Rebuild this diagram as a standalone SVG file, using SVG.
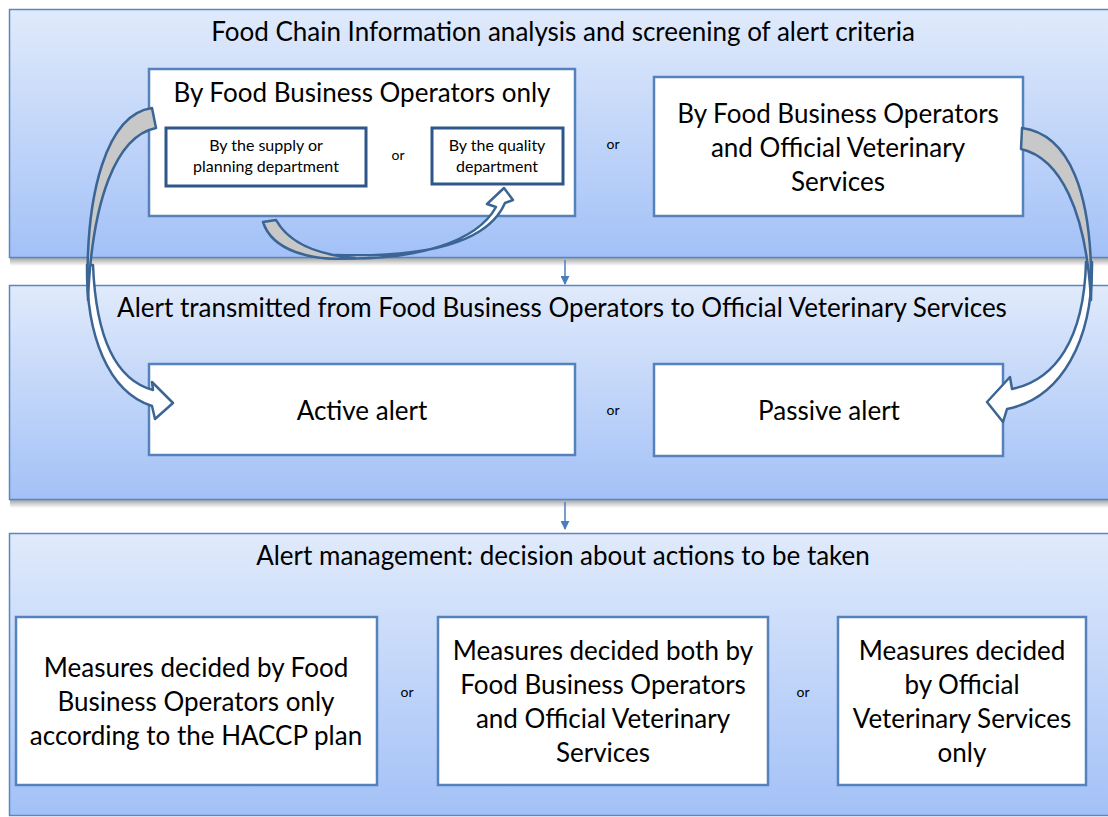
<svg xmlns="http://www.w3.org/2000/svg" width="1108" height="817" viewBox="0 0 1108 817">
<defs>
<linearGradient id="pg" x1="0" y1="0" x2="0" y2="1">
<stop offset="0" stop-color="#e0eafb"/>
<stop offset="1" stop-color="#a3c1f7"/>
</linearGradient>
<linearGradient id="sh" x1="0" y1="0" x2="0" y2="1">
<stop offset="0" stop-color="#000" stop-opacity="0.35"/>
<stop offset="1" stop-color="#000" stop-opacity="0"/>
</linearGradient>
<marker id="ah" viewBox="0 0 10 10" refX="9" refY="5" markerWidth="9" markerHeight="9" orient="auto" markerUnits="userSpaceOnUse">
<path d="M0,0 L10,5 L0,10 Z" fill="#4a7ebb"/>
</marker>
</defs>
<style>
.panel{fill:url(#pg);stroke:#5a86c2;stroke-width:1.5}
.shadow{fill:url(#sh)}
.box{fill:#fff;stroke:#5582bd;stroke-width:2.5}
.ibox{fill:#fff;stroke:#2f5688;stroke-width:3}
.t{font-family:Lato,"Liberation Sans",sans-serif;fill:#000;text-anchor:middle}
.big{font-size:26px}
.sm{font-size:16px}
.or{font-size:14px}
.arr{stroke:#3b6595;stroke-width:2.5;stroke-linejoin:round}
.link{stroke:#4a7ebb;stroke-width:1.5;fill:none}
</style>
<rect width="1108" height="817" fill="#fff"/>

<g id="panel1">
<rect class="shadow" x="10" y="258" width="1100" height="8"/>
<rect class="panel" x="9.5" y="9.5" width="1110" height="248"/>
<text class="t big" x="563" y="41">Food Chain Information analysis and screening of alert criteria</text>
</g>
<g id="panel2">
<rect class="shadow" x="10" y="500" width="1100" height="8"/>
<rect class="panel" x="9.5" y="285.5" width="1110" height="214"/>
<text class="t big" x="562" y="317">Alert transmitted from Food Business Operators to Official Veterinary Services</text>
</g>
<g id="panel3">
<rect class="panel" x="9.5" y="533.5" width="1110" height="282"/>
<text class="t big" x="563" y="565">Alert management: decision about actions to be taken</text>
</g>

<g id="fbo-only">
<rect class="box" x="149" y="69" width="426" height="147"/>
<text class="t big" x="362" y="102">By Food Business Operators only</text>
</g>
<g id="supply">
<rect class="ibox" x="166" y="128" width="200" height="58"/>
<text class="t sm" x="266" y="151">By the supply or</text>
<text class="t sm" x="266" y="172">planning department</text>
</g>
<text class="t or" x="398" y="160">or</text>
<g id="quality">
<rect class="ibox" x="432" y="128" width="131" height="56"/>
<text class="t sm" x="497" y="151">By the quality</text>
<text class="t sm" x="497" y="172">department</text>
</g>
<text class="t or" x="613" y="149">or</text>
<g id="fbo-ovs">
<rect class="box" x="654" y="77" width="369" height="139"/>
<text class="t big" x="838" y="123">By Food Business Operators</text>
<text class="t big" x="838" y="157">and Official Veterinary</text>
<text class="t big" x="838" y="191">Services</text>
</g>

<g id="active">
<rect class="box" x="149" y="364" width="426" height="91"/>
<text class="t big" x="362" y="420">Active alert</text>
</g>
<text class="t or" x="613" y="415">or</text>
<g id="passive">
<rect class="box" x="654" y="364" width="349" height="92"/>
<text class="t big" x="829" y="420">Passive alert</text>
</g>

<g id="m1">
<rect class="box" x="16" y="617" width="361" height="168"/>
<text class="t big" x="196" y="677">Measures decided by Food</text>
<text class="t big" x="196" y="711">Business Operators only</text>
<text class="t big" x="196" y="745">according to the HACCP plan</text>
</g>
<text class="t or" x="407" y="697">or</text>
<g id="m2">
<rect class="box" x="438" y="617" width="330" height="168"/>
<text class="t big" x="603" y="660">Measures decided both by</text>
<text class="t big" x="603" y="694">Food Business Operators</text>
<text class="t big" x="603" y="728">and Official Veterinary</text>
<text class="t big" x="603" y="762">Services</text>
</g>
<text class="t or" x="803" y="697">or</text>
<g id="m3">
<rect class="box" x="838" y="617" width="248" height="168"/>
<text class="t big" x="962" y="660">Measures decided</text>
<text class="t big" x="962" y="694">by Official</text>
<text class="t big" x="962" y="728">Veterinary Services</text>
<text class="t big" x="962" y="762">only</text>
</g>

<g id="connectors">
<line class="link" x1="565" y1="260" x2="565" y2="284" marker-end="url(#ah)"/>
<line class="link" x1="565" y1="502" x2="565" y2="529" marker-end="url(#ah)"/>
<path class="arr" fill="#fff" d="M87,265 C86,335 108,392 152,406 L155,419 L173,403 L152,382 L153,390 C116,380 96,340 93,265 Z"/>
<path class="arr" fill="#c8c8c8" d="M152,108 L156,128 C116,136 92,200 88,300 C84,190 108,114 152,108 Z"/>
<path class="arr" fill="#fff" d="M1092,262 C1093,340 1062,398 1007,409 L1003,422 L987,402 L1010,377 L1012,389 C1055,380 1084,340 1086,262 Z"/>
<path class="arr" fill="#c8c8c8" d="M1022,128 C1068,134 1094,190 1091,300 C1086,210 1060,158 1021,149 Z"/>
<path class="arr" fill="#fff" d="M330,258 C420,262 478,240 496,207 L487,204 L504,188 L513,200 L505,203 C488,242 430,258 335,255 Z"/>
<path class="arr" fill="#c8c8c8" d="M263,222 L276,220 C290,245 320,255 355,258 C310,262 272,250 263,222 Z"/>
</g>
</svg>
